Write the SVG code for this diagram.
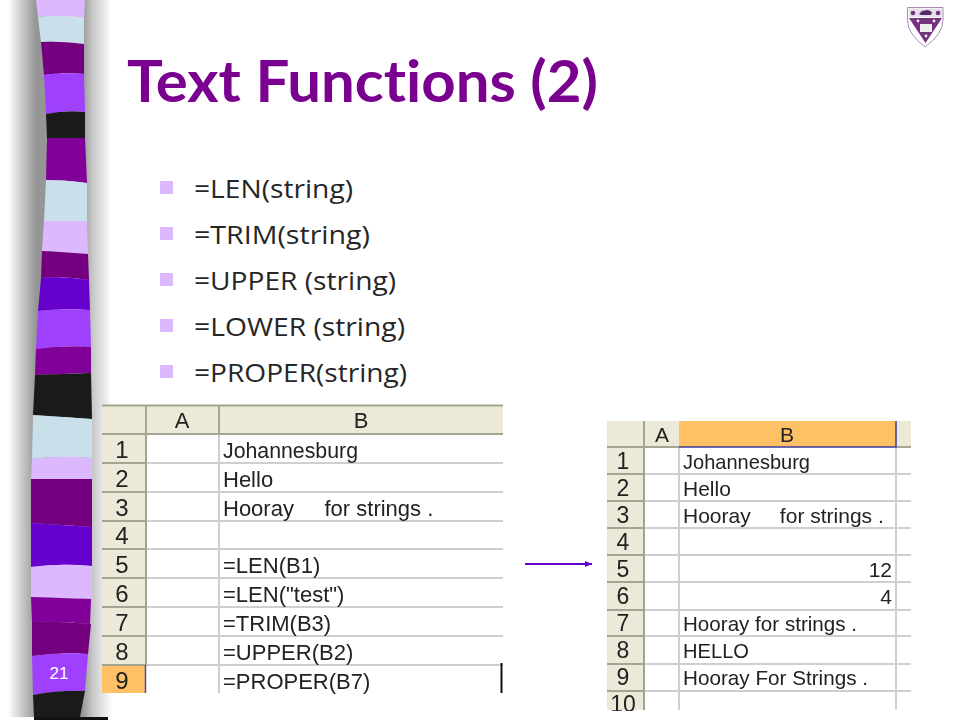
<svg xmlns="http://www.w3.org/2000/svg" width="960" height="720" viewBox="0 0 960 720">
<style>
.lb{fill:#c9dfea}.lp{fill:#dcb8ff}.dp{fill:#74007f}.mp{fill:#800099}.vi{fill:#a040ff}.bv{fill:#6600cc}.bk{fill:#1a1a1a}
.title{font:700 58px Lato,"Open Sans",sans-serif;fill:#7a0090;font-variant-ligatures:none}
.bul{font:25px "Open Sans",Lato,sans-serif;fill:#262626}
.bs{fill:#dcb8ff}
.cell{font-family:"Liberation Sans",Arial,sans-serif;fill:#222}
.l .cell{font-size:22px}.r .cell{font-size:21px}
.l .num{font-size:24px}.r .num{font-size:23px}
.hd{fill:#ece9d8}.or{fill:#ffc066}
.gl{stroke:#cfcfcf;stroke-width:2;fill:none}
.hl{stroke:#a5a493;stroke-width:2;fill:none}
.ctr{text-anchor:middle}
</style>
<defs>
<linearGradient id="sl" x1="0" x2="1" y1="0" y2="0"><stop offset="0" stop-color="#fff"/><stop offset="0.55" stop-color="#c4c4c4"/><stop offset="1" stop-color="#969696"/></linearGradient>
<linearGradient id="sr" x1="0" x2="1" y1="0" y2="0"><stop offset="0" stop-color="#8c8c8c"/><stop offset="0.4" stop-color="#c8c8c8"/><stop offset="1" stop-color="#fff"/></linearGradient>
<marker id="ah" markerUnits="userSpaceOnUse" markerWidth="8" markerHeight="8" refX="7" refY="4" orient="auto"><path d="M0 1L7 4L0 7z" fill="#6600cc"/></marker>
<filter id="soft" x="-5%" y="-5%" width="110%" height="110%"><feGaussianBlur stdDeviation="0.35"/></filter>
</defs>
<rect width="960" height="720" fill="#fff"/>
<g id="strip">
<rect x="8" y="0" width="28" height="717" fill="url(#sl)"/>
<rect x="36" y="0" width="24" height="717" fill="#969696"/>
<path d="M84 0L110 0L112 717L80 717z" fill="url(#sr)"/>
<rect x="34" y="717" width="74" height="3" fill="#111"/>
<path class="lp" d="M36 0H85L84 18Q60 14 38 17z"/>
<path class="lb" d="M38 17Q60 14 84 18V44Q60 41 41 42z"/>
<path class="dp" d="M41 42Q60 41 84 44L84 74Q60 72 44 75z"/>
<path class="vi" d="M44 75Q60 72 84 74L85 112Q65 110 46 114z"/>
<path class="bk" d="M46 114Q65 110 85 112V138H47z"/>
<path class="mp" d="M47 138H85L87 183Q65 180 46 180z"/>
<path class="lb" d="M46 180Q65 180 87 183V221H44z"/>
<path class="lp" d="M44 221H87L88 254Q65 252 42 251z"/>
<path class="dp" d="M42 251Q65 252 88 254L89 280Q65 276 41 278z"/>
<path class="bv" d="M41 278Q65 276 89 280L90 310Q65 308 38 311z"/>
<path class="vi" d="M38 311Q65 308 90 310L91 347Q65 345 36 349z"/>
<path class="mp" d="M36 349Q65 345 91 347V373L35 375z"/>
<path class="bk" d="M35 375L91 373L92 419L33 415z"/>
<path class="lb" d="M33 415L92 419V458Q60 455 32 459z"/>
<path class="lp" d="M32 459Q60 455 92 458V479H31z"/>
<path class="dp" d="M31 479H92V527L31 523z"/>
<path class="bv" d="M31 523L92 527V566Q60 563 31 567z"/>
<path class="lp" d="M31 567Q60 563 92 566V599L31 597z"/>
<path class="mp" d="M31 597L91 599L90 624Q60 621 32 622z"/>
<path class="dp" d="M32 622Q60 621 91 624L88 654Q60 652 32 656z"/>
<path class="vi" d="M32 656Q60 652 88 654L85 691Q60 690 33 695z"/>
<path class="bk" d="M33 695Q60 690 85 691L80 717H34z"/>
<text x="59" y="679" class="ctr" font-family="'Liberation Sans',Arial,sans-serif" font-size="17" fill="#fff">21</text>
</g>
<g id="crest" filter="url(#soft)">
<path d="M907.500 7.500H943V20Q943 34 925 47Q907.500 34 907.500 20z" fill="#fff" stroke="#a98cb5" stroke-width="1"/>
<path d="M909 8.500H942V17H909z" fill="#e6dfe9"/>
<path d="M909 18H942L925.500 43z" fill="#74307f"/>
<path d="M920 24H932V32H920z" fill="#eee"/>
<path d="M919 14L922 11L928 10L932 12L931 15H921z" fill="#5a2a6a"/>
<circle cx="913" cy="13" r="2.300" fill="#74307f"/><circle cx="938" cy="13" r="2.300" fill="#74307f"/>
<circle cx="918" cy="21" r="1.400" fill="#eee"/><circle cx="934" cy="21" r="1.400" fill="#eee"/><circle cx="926" cy="36" r="1.400" fill="#eee"/>
</g>
<text id="title" class="title" x="127" y="102" textLength="471" lengthAdjust="spacingAndGlyphs">Text Functions (2)</text>
<g id="bullets">
<rect class="bs" x="160" y="181" width="13" height="13"/><text class="bul" x="194" y="198" textLength="159" lengthAdjust="spacingAndGlyphs">=LEN(string)</text>
<rect class="bs" x="160" y="227" width="13" height="13"/><text class="bul" x="194" y="244" textLength="176" lengthAdjust="spacingAndGlyphs">=TRIM(string)</text>
<rect class="bs" x="160" y="273" width="13" height="13"/><text class="bul" x="194" y="290" textLength="202" lengthAdjust="spacingAndGlyphs">=UPPER (string)</text>
<rect class="bs" x="160" y="319" width="13" height="13"/><text class="bul" x="194" y="336" textLength="211" lengthAdjust="spacingAndGlyphs">=LOWER (string)</text>
<rect class="bs" x="160" y="365" width="13" height="13"/><text class="bul" x="194" y="382" textLength="213" lengthAdjust="spacingAndGlyphs">=PROPER(string)</text>
</g>
<g id="sheet-left" class="l" filter="url(#soft)">
<rect class="hd" x="102" y="405" width="401" height="29"/>
<rect class="hd" x="102" y="434" width="44" height="231"/>
<rect class="or" x="102" y="665" width="44" height="28"/>
<path class="gl" d="M146 463H503M146 492H503M146 521H503M146 549H503M146 578H503M146 607H503M146 636H503M146 665H503M219 434V693"/>
<path class="hl" d="M102 405.500H503M102 434H503M102 463H146M102 492H146M102 521H146M102 549H146M102 578H146M102 607H146M102 636H146M102 665H146M146 405V665M219 405V434"/>
<path d="M145.500 665V693" stroke="#4a4aa8" stroke-width="1.500"/>
<path d="M501.500 663V693" stroke="#111" stroke-width="2"/>
<g class="cell ctr"><text x="182" y="428">A</text><text x="361" y="428">B</text>
<g class="num"><text x="122" y="458">1</text><text x="122" y="487">2</text><text x="122" y="516">3</text><text x="122" y="544">4</text><text x="122" y="573">5</text><text x="122" y="602">6</text><text x="122" y="631">7</text><text x="122" y="660">8</text><text x="122" y="689">9</text></g></g>
<g class="cell"><text x="223" y="458" textLength="135" lengthAdjust="spacingAndGlyphs">Johannesburg</text><text x="223" y="487">Hello</text><text x="223" y="516" xml:space="preserve">Hooray     for strings .</text>
<text x="223" y="573">=LEN(B1)</text><text x="223" y="602">=LEN("test")</text><text x="223" y="631">=TRIM(B3)</text><text x="223" y="660">=UPPER(B2)</text><text x="223" y="689">=PROPER(B7)</text></g>
</g>
<g id="connectors"><path d="M525 564H592" stroke="#6600cc" stroke-width="2" fill="none" marker-end="url(#ah)"/></g>
<g id="sheet-right" class="r" filter="url(#soft)">
<rect class="hd" x="607" y="421" width="304" height="26"/>
<rect class="hd" x="607" y="447" width="37" height="263"/>
<rect class="or" x="679" y="421" width="217" height="26"/>
<path class="gl" d="M644 474H911M644 501H911M644 528H911M644 555H911M644 582H911M644 610H911M644 636H911M644 664H911M644 691H911M679 447V710M896 447V710"/>
<path class="hl" d="M607 447H679M896 447H911M607 474H644M607 501H644M607 528H644M607 555H644M607 582H644M607 610H644M607 636H644M607 664H644M607 691H644M644 421V710"/>
<path d="M679 447H896V421" stroke="#3a3a9a" stroke-width="1.500" fill="none"/>
<g class="cell ctr"><text x="662" y="442">A</text><text x="787" y="442">B</text>
<g class="num"><text x="623" y="469">1</text><text x="623" y="496">2</text><text x="623" y="523">3</text><text x="623" y="550">4</text><text x="623" y="577">5</text><text x="623" y="604">6</text><text x="623" y="631">7</text><text x="623" y="658">8</text><text x="623" y="685">9</text><text x="623" y="712">10</text></g></g>
<g class="cell"><text x="683" y="469" textLength="127" lengthAdjust="spacingAndGlyphs">Johannesburg</text><text x="683" y="496">Hello</text><text x="683" y="523" xml:space="preserve">Hooray     for strings .</text>
<text x="892" y="577" text-anchor="end">12</text><text x="892" y="604" text-anchor="end">4</text>
<text x="683" y="631" textLength="174" lengthAdjust="spacingAndGlyphs">Hooray for strings .</text><text x="683" y="658" textLength="66" lengthAdjust="spacingAndGlyphs">HELLO</text><text x="683" y="685" textLength="185" lengthAdjust="spacingAndGlyphs">Hooray For Strings .</text></g>
</g>
<rect x="600" y="711" width="320" height="9" fill="#fff"/>
</svg>
